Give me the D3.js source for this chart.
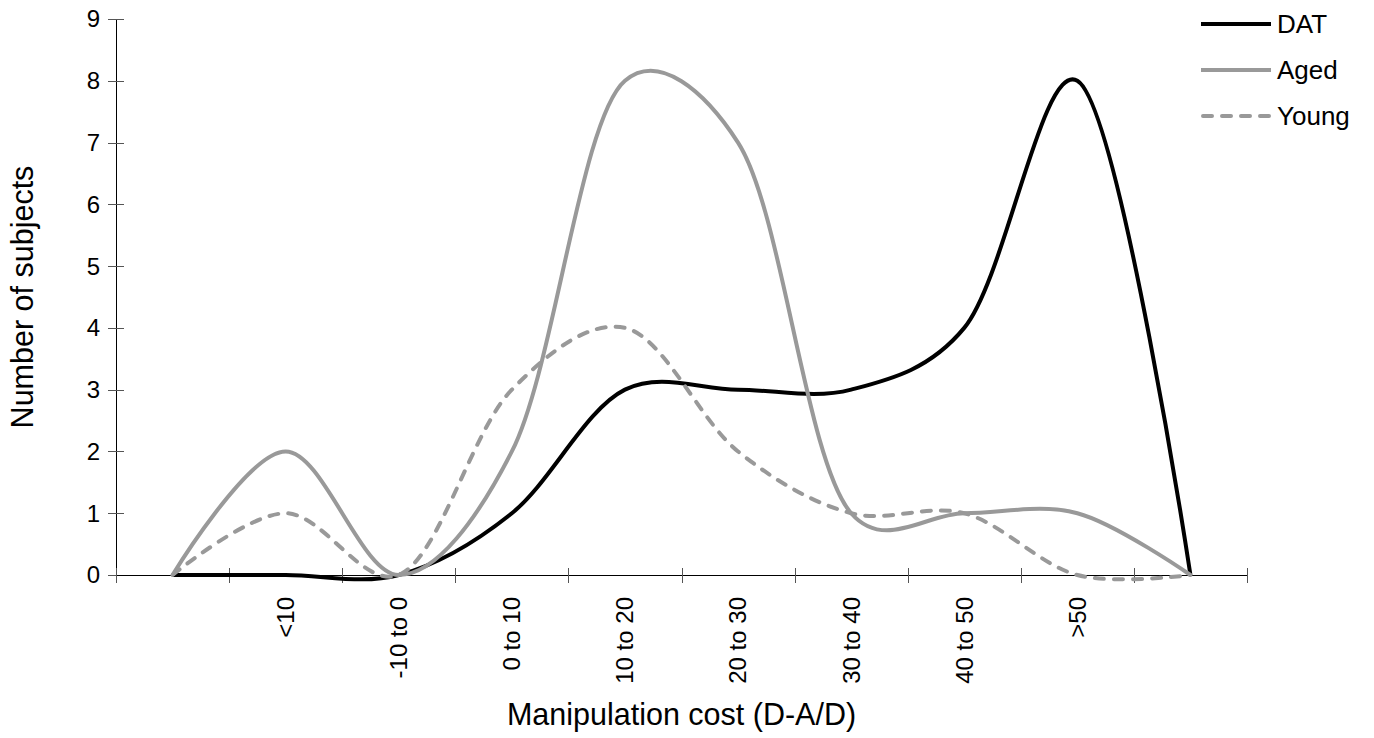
<!DOCTYPE html>
<html>
<head>
<meta charset="utf-8">
<script src="https://cdn.jsdelivr.net/npm/d3@7"></script>
<style>
  body { margin: 0; background: #fff; }
  svg { font-family: Arial, "Liberation Sans", sans-serif; }
</style>
</head>
<body>
<div id="chart"></div>
<script>
// categories (first and last bins carry no label)
var categories = ["", "<10", "-10 to 0", "0 to 10", "10 to 20", "20 to 30", "30 to 40", "40 to 50", ">50", ""];
var datValues = [0, 0, 0, 1, 3, 3, 3, 4, 8, 0];
var agedValues = [0, 2, 0, 2, 8, 7, 1, 1, 1, 0];
var youngValues = [0, 1, 0, 3, 4, 2, 1, 1, 0, 0];
var yTicks = [0, 1, 2, 3, 4, 5, 6, 7, 8, 9];

var series = [
  { name: "DAT", values: datValues, color: "#000000", dash: null },
  { name: "Aged", values: agedValues, color: "#999999", dash: null },
  { name: "Young", values: youngValues, color: "#999999", dash: "9,10" }
];

var chartW = 1374, chartH = 738;
var plotLeft = 116, plotRight = 1247, plotTop = 19, plotBottom = 575;

var svg = d3.select("#chart").append("svg")
  .attr("width", chartW)
  .attr("height", chartH);

var x = d3.scaleBand().domain(d3.range(categories.length)).range([plotLeft, plotRight]);
var y = d3.scaleLinear().domain([0, 9]).range([plotBottom, plotTop]);

// y axis
svg.append("line")
  .attr("x1", plotLeft + 0.5).attr("x2", plotLeft + 0.5)
  .attr("y1", y(9)).attr("y2", y(0))
  .style("stroke", "#000").style("stroke-width", 1);

svg.selectAll(".ytick")
  .data(yTicks)
  .enter().append("line")
  .attr("class", "ytick")
  .attr("x1", plotLeft - 8).attr("x2", plotLeft + 8)
  .attr("y1", function (d) { return Math.round(y(d)) + 0.5; })
  .attr("y2", function (d) { return Math.round(y(d)) + 0.5; })
  .style("stroke", "#555").style("stroke-width", 1);

svg.selectAll(".ylabel")
  .data(yTicks)
  .enter().append("text")
  .attr("class", "ylabel")
  .attr("x", plotLeft - 16)
  .attr("y", function (d) { return y(d); })
  .attr("dy", "0.35em")
  .attr("text-anchor", "end")
  .style("font-size", "24px")
  .text(function (d) { return d; });

// x axis
svg.append("line")
  .attr("x1", plotLeft).attr("x2", plotRight)
  .attr("y1", y(0) + 0.5).attr("y2", y(0) + 0.5)
  .style("stroke", "#000").style("stroke-width", 1);

var bounds = d3.range(categories.length + 1).map(function (i) {
  return plotLeft + i * x.bandwidth();
});

svg.selectAll(".xtick")
  .data(bounds)
  .enter().append("line")
  .attr("class", "xtick")
  .attr("x1", function (d) { return Math.round(d) + 0.5; })
  .attr("x2", function (d) { return Math.round(d) + 0.5; })
  .attr("y1", y(0) - 7).attr("y2", y(0) + 8)
  .style("stroke", "#555").style("stroke-width", 1);

svg.selectAll(".xlabel")
  .data(categories)
  .enter().append("text")
  .attr("class", "xlabel")
  .attr("transform", function (d, i) {
    return "translate(" + (x(i) + x.bandwidth() / 2) + "," + (y(0) + 22) + ")rotate(-90)";
  })
  .attr("dy", "0.35em")
  .attr("text-anchor", "end")
  .style("font-size", "24px")
  .text(function (d) { return d; });

// axis titles
svg.append("text")
  .attr("x", (plotLeft + plotRight) / 2)
  .attr("y", 725)
  .attr("text-anchor", "middle")
  .style("font-size", "30.5px")
  .text("Manipulation cost (D-A/D)");

svg.append("text")
  .attr("transform", "translate(33," + ((plotTop + plotBottom) / 2) + ")rotate(-90)")
  .attr("text-anchor", "middle")
  .style("font-size", "30.5px")
  .text("Number of subjects");

// smoothed lines
var line = d3.line()
  .x(function (d, i) { return x(i) + x.bandwidth() / 2; })
  .y(function (d) { return y(d); })
  .curve(d3.curveCatmullRom.alpha(0.25));

svg.selectAll(".series")
  .data(series)
  .enter().append("path")
  .attr("class", "series")
  .attr("d", function (d) { return line(d.values); })
  .style("fill", "none")
  .style("stroke", function (d) { return d.color; })
  .style("stroke-width", 4)
  .style("stroke-linejoin", "round")
  .style("stroke-linecap", function (d) { return d.dash ? "round" : "butt"; })
  .style("stroke-dasharray", function (d) { return d.dash; });

// legend
var legend = svg.selectAll(".legend")
  .data(series)
  .enter().append("g")
  .attr("class", "legend")
  .attr("transform", function (d, i) { return "translate(1201," + (24 + i * 46) + ")"; });

legend.append("line")
  .attr("x1", function (d) { return d.dash ? 2 : 0; })
  .attr("x2", 70)
  .style("stroke", function (d) { return d.color; })
  .style("stroke-width", 4)
  .style("stroke-linecap", function (d) { return d.dash ? "round" : "butt"; })
  .style("stroke-dasharray", function (d) { return d.dash; });

legend.append("text")
  .attr("x", 76)
  .attr("dy", "0.35em")
  .style("font-size", "26px")
  .text(function (d) { return d.name; });
</script>
</body>
</html>
